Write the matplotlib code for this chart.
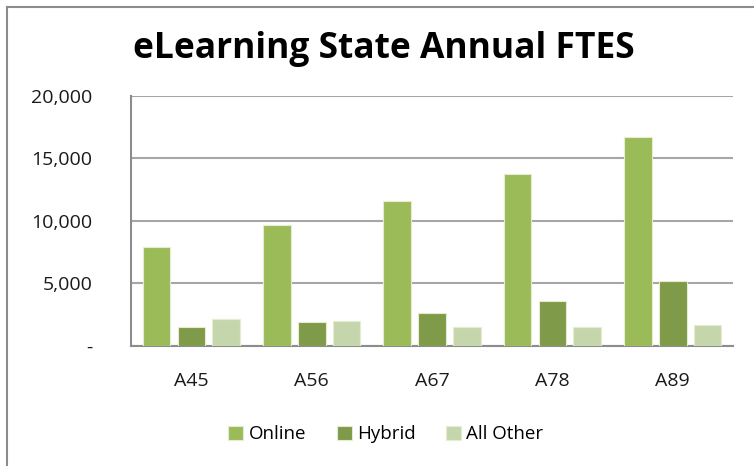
import numpy as np
import matplotlib
matplotlib.use('Agg')
import matplotlib.pyplot as plt
from matplotlib.lines import Line2D
from matplotlib.ticker import FuncFormatter

plt.rcParams['font.family'] = ['Open Sans', 'DejaVu Sans']

categories = ['A45', 'A56', 'A67', 'A78', 'A89']
online = [7880, 9670, 11570, 13780, 16700]
hybrid = [1470, 1870, 2640, 3560, 5160]
all_other = [2140, 2000, 1470, 1470, 1630]
series_names = ['Online', 'Hybrid', 'All Other']
colors = ['#9BBB59', '#7F9A48', '#C6D6AC']

fig = plt.figure(figsize=(7.54, 4.66), dpi=100)
ax = fig.add_axes([0.174, 0.258, 0.798, 0.536])

x = np.arange(len(categories))
width = 0.23
step = 0.29
for k, (vals, name, c) in enumerate(zip([online, hybrid, all_other], series_names, colors)):
    ax.bar(x + (k - 1) * step, vals, width, color=c, label=name,
           edgecolor='#E4EDD2', linewidth=0.8, zorder=3)

ax.set_xlim(-0.5, len(categories) - 0.5)
ax.set_ylim(0, 20000)
ax.set_yticks([0, 5000, 10000, 15000, 20000])
ax.yaxis.set_major_formatter(FuncFormatter(lambda v, p: '-' if v == 0 else '{:,.0f}'.format(v)))
ax.set_xticks(x)
ax.set_xticklabels(categories)
ax.tick_params(length=0, labelsize=14, colors='#1a1a1a')
ax.tick_params(axis='x', pad=19)
ax.tick_params(axis='y', pad=28)
ax.grid(axis='y', color='#A6A6A6', linewidth=1.5, zorder=0)
ax.spines['top'].set_visible(False)
ax.spines['right'].set_visible(False)
ax.spines['left'].set_color('#8C8C8C')
ax.spines['bottom'].set_color('#8C8C8C')
ax.spines['left'].set_linewidth(1.5)
ax.spines['bottom'].set_linewidth(1.5)

fig.text(0.509, 0.895, 'eLearning State Annual FTES', ha='center', va='center',
         fontsize=25.5, fontweight='bold')

fig.legend(loc='center', bbox_to_anchor=(0.512, 0.068), ncol=3, frameon=False,
           fontsize=13.5, handlelength=0.8, handleheight=0.8, handletextpad=0.3,
           columnspacing=1.6)

# outer chart border (top and left visible)
fig.add_artist(Line2D([0.0093, 1.0], [0.985, 0.985], transform=fig.transFigure,
                      color='#8C8C8C', linewidth=1.5))
fig.add_artist(Line2D([0.0093, 0.0093], [0.0, 0.985], transform=fig.transFigure,
                      color='#8C8C8C', linewidth=1.5))

fig.savefig('out.png', dpi=100)
